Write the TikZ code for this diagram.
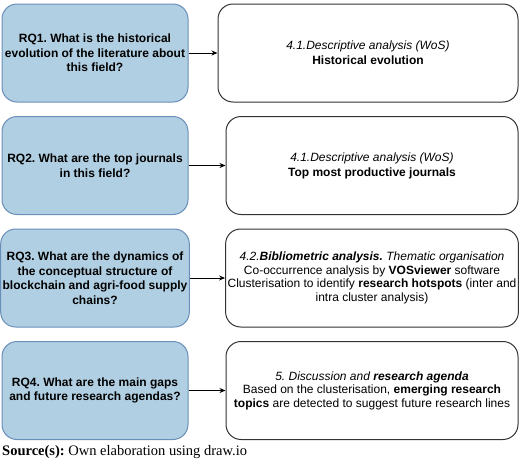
\documentclass[tikz,border=0pt]{standalone}
\usepackage{fontspec}
\setmainfont{Liberation Sans}
\newfontfamily\srcfont{Liberation Serif}
\usetikzlibrary{positioning,arrows.meta}
\definecolor{rqfill}{HTML}{B1CFE2}
\definecolor{rqdraw}{HTML}{6A8FB8}
\definecolor{partdraw}{HTML}{333333}
\frenchspacing

\begin{document}
\begin{tikzpicture}[x=1pt, y=1pt, node distance=112.5pt, on grid,
    >={Stealth[length=6pt,width=5pt]},
    rq/.style={draw=rqdraw, fill=rqfill, rounded corners=15pt, line width=1pt,
      minimum width=186pt, minimum height=98pt, inner sep=2pt, align=center,
      font=\fontsize{12}{14.5}\selectfont\bfseries},
    part/.style={draw=partdraw, rounded corners=15pt, line width=1pt,
      minimum width=292pt, minimum height=98pt, inner sep=2pt, align=center,
      font=\fontsize{12}{13.5}\selectfont}]
  \useasboundingbox (0,0) rectangle (520,-461);

  % research questions
  \node[rq] (q1) at (95,-53) {RQ1. What is the historical\\evolution of the literature about\\this field?};
  \node[rq] (q2) [below=of q1] {RQ2. What are the top journals\\in this field?};
  \node[rq] (q3) [below=of q2] {RQ3. What are the dynamics of\\the conceptual structure of\\blockchain and agri-food supply\\chains?};
  \node[rq] (q4) [below=of q3] {RQ4. What are the main gaps\\and future research agendas?};

  % sections of the paper
  \node[part, minimum width=300pt] (a1) [right=273pt of q1] {\textit{4.1.Descriptive analysis (WoS)}\\[1.5pt]\textbf{Historical evolution}};
  \node[part] (a2) [right=277pt of q2] {\textit{4.1.Descriptive analysis (WoS)}\\[1.5pt]\textbf{Top most productive journals}};
  \node[part] (a3) [right=277pt of q3] {\textit{4.2.\textbf{Bibliometric analysis.} Thematic organisation}\\Co-occurrence analysis by \textbf{VOSviewer} software\\Clusterisation to identify \textbf{research hotspots} (inter and\\intra cluster analysis)};
  \node[part] (a4) [right=277pt of q4] {\textit{5. Discussion and \textbf{research agenda}}\\Based on the clusterisation, \textbf{emerging research}\\\textbf{topics} are detected to suggest future research lines};

  \node[anchor=base west, inner sep=0pt, font=\srcfont\fontsize{14.5}{16}\selectfont] (src) at (2,-455) {\textbf{Source(s):} Own elaboration using draw.io};

  \path[->, line width=1pt]
    (q1) edge (a1)
    (q2) edge (a2)
    (q3) edge (a3)
    (q4) edge (a4);
\end{tikzpicture}
\end{document}
